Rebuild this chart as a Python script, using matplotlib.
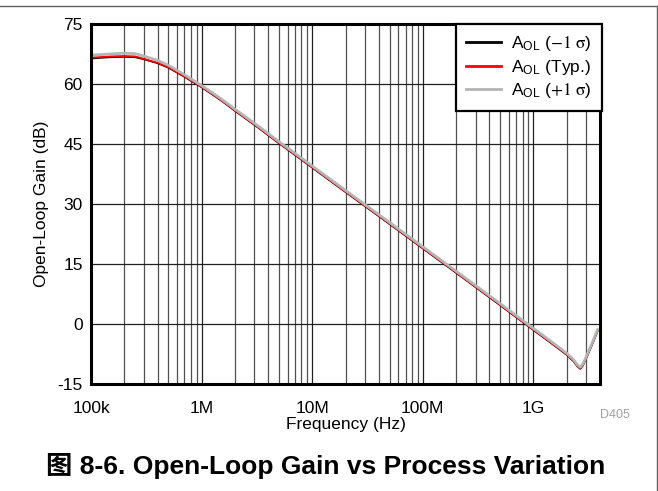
import matplotlib
matplotlib.use("Agg")
import matplotlib.pyplot as plt
from matplotlib.lines import Line2D
import numpy as np

plt.rcParams['font.family'] = ['Liberation Sans', 'Noto Sans CJK SC', 'DejaVu Sans']
plt.rcParams['mathtext.fontset'] = 'stix'

# Data (frequency in Hz, gain in dB)
freq = [1e5, 1.5e5, 2e5, 2.5e5, 3e5, 4e5, 5e5, 7e5, 1e6, 1.5e6, 2e6, 3e6, 5e6,
        1e7, 2e7, 5e7, 1e8, 2e8, 5e8, 8e8, 1e9, 1.5e9, 2e9, 2.3e9, 2.5e9,
        2.65e9, 2.8e9, 3.0e9, 3.4e9, 3.8e9]
gain_typ = [66.6, 66.9, 67.0, 66.9, 66.3, 65.3, 64.2, 61.9, 59.3, 56.0, 53.4, 49.9, 45.3,
            39.2, 33.1, 25.1, 19.0, 12.9, 4.8, 0.6, -1.4, -5.0, -7.6, -9.2, -10.5,
            -11.1, -10.3, -8.5, -5.0, -1.7]
gain_m1 = [66.4, 66.7, 66.8, 66.7, 66.2, 65.2, 64.1, 61.8, 59.2, 55.9, 53.3, 49.8, 45.2,
           39.1, 33.0, 25.0, 18.9, 12.8, 4.7, 0.5, -1.5, -5.1, -7.7, -9.3, -10.6,
           -11.2, -10.4, -8.6, -5.1, -1.8]
gain_p1 = [67.2, 67.5, 67.7, 67.6, 67.0, 65.9, 64.7, 62.3, 59.6, 56.3, 53.7, 50.2, 45.6,
           39.5, 33.4, 25.4, 19.3, 13.2, 5.1, 0.9, -1.1, -4.7, -7.3, -8.9, -10.2,
           -10.8, -10.0, -8.2, -4.7, -1.4]

xticks = [1e5, 1e6, 1e7, 1e8, 1e9]
xtick_labels = ["100k", "1M", "10M", "100M", "1G"]
yticks = [-15, 0, 15, 30, 45, 60, 75]
ytick_labels = ["-15", "0", "15", "30", "45", "60", "75"]

labels = [r"A$_{\mathregular{OL}}$ ($-1\ \mathrm{\sigma}$)",
          r"A$_{\mathregular{OL}}$ (Typ.)",
          r"A$_{\mathregular{OL}}$ ($+1\ \mathrm{\sigma}$)"]

fig = plt.figure(figsize=(6.58, 4.91), dpi=100)
ax = fig.add_axes([91/658, 1-384/491, (600-91)/658, 360/491])

l1, = ax.semilogx(freq, gain_m1, color='black', lw=1.3, zorder=3)
l2, = ax.semilogx(freq, gain_typ, color='red', lw=1.3, zorder=4)
l3, = ax.semilogx(freq, gain_p1, color='#b4b4b4', lw=2.0, zorder=5)

ax.set_xlim(1e5, 4e9)
ax.set_ylim(-15, 75)
ax.set_xticks(xticks)
ax.set_xticklabels(xtick_labels)
ax.set_yticks(yticks)
ax.set_yticklabels(ytick_labels)
ax.xaxis.set_minor_locator(matplotlib.ticker.LogLocator(base=10, subs=np.arange(2, 10)))
ax.xaxis.set_minor_formatter(matplotlib.ticker.NullFormatter())
ax.tick_params(which='both', length=0)
ax.tick_params(axis='x', pad=12, labelsize=12.5)
ax.tick_params(axis='y', pad=6, labelsize=12.5)
ax.grid(True, which='major', color='#202020', lw=0.9)
ax.grid(True, which='minor', axis='x', color='#505050', lw=0.9)
for s in ax.spines.values():
    s.set_linewidth(2.2)
    s.set_zorder(6)

ax.set_xlabel("Frequency (Hz)", fontsize=12.5, labelpad=1)
ax.set_ylabel("Open-Loop Gain (dB)", fontsize=12.5, labelpad=6)

leg = ax.legend([l1, l2, l3], labels, loc='upper right', bbox_to_anchor=(1.004, 1.0),
                borderaxespad=0, fancybox=False, framealpha=1, edgecolor='black',
                fontsize=12.5, handlelength=2.0, handletextpad=0.6, borderpad=0.6,
                labelspacing=0.25)
leg.get_frame().set_linewidth(1.6)
for h in leg.legend_handles:
    h.set_linewidth(2.0)
leg.set_zorder(7)

fig.text(615/658, 1-415/491, "D405", color='#a0a0a0', fontsize=9, ha='center', va='center')
fig.text(326/658, 1-466/491, "图 8-6. Open-Loop Gain vs Process Variation",
         fontsize=19, fontweight='bold', ha='center', va='center')

fig.add_artist(Line2D([0, 656.5/658], [1-5.5/491, 1-5.5/491], color='#606060', lw=1.0,
                      transform=fig.transFigure))
fig.add_artist(Line2D([656.5/658, 656.5/658], [0, 1-5.5/491], color='#606060', lw=1.0,
                      transform=fig.transFigure))

fig.savefig("out.png", dpi=100)
